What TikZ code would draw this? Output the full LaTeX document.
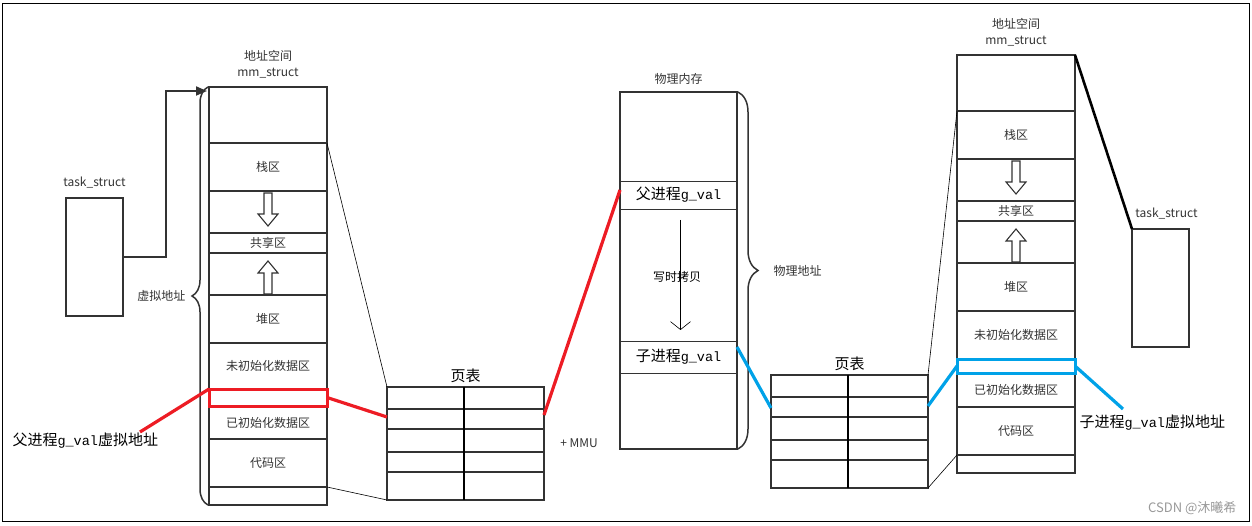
\documentclass[tikz,border=0pt]{standalone}
\usepackage{fontspec}
\setmainfont{Noto Sans CJK SC}
\newfontfamily\monofont{Liberation Mono}
\usetikzlibrary{positioning, arrows.meta, decorations.pathreplacing}

\definecolor{linec}{HTML}{333333}
\definecolor{redline}{HTML}{ED1C24}
\definecolor{blueline}{HTML}{00A2E8}

\newcommand{\labfont}{\fontsize{12pt}{16pt}\selectfont}
\newcommand{\bigfont}{\fontsize{15pt}{18pt}\selectfont}
\newcommand{\gval}{{\monofont\fontsize{13.5pt}{16pt}\selectfont g\_val}}

\begin{document}
\begin{tikzpicture}[
        x=1pt, y=-1pt,
        every node/.style={font=\labfont, text=linec},
        seg/.style={draw=linec, line width=1.8pt, minimum width=118pt, inner sep=0pt, outer sep=0pt},
        cell/.style={draw=linec, line width=0.8pt, minimum width=117pt, inner sep=0pt, outer sep=0pt},
        ptab/.style={draw=linec, line width=1.8pt, minimum width=157pt, minimum height=113pt, inner sep=0pt, outer sep=0pt},
        tbox/.style={draw=linec, line width=1.8pt, minimum width=57pt, minimum height=118pt, inner sep=0pt, outer sep=0pt},
        guide/.style={draw=black, line width=0.6pt},
        redl/.style={draw=redline, line width=3.2pt},
        bluel/.style={draw=blueline, line width=3.2pt},
        hollowdown/.pic={
            \draw[draw=linec, line width=1.1pt, fill=white]
                (-4,0) -- (-4,21) -- (-10,21) -- (0,33) -- (10,21) -- (4,21) -- (4,0) -- cycle;
        }
    ]

    \useasboundingbox (0,0) rectangle (1252,526);
    \draw[black, line width=1pt] (2,4) rectangle (1249,521);

    % parent address space
    \foreach \nm/\yc/\hgt/\txt in {ltop/115/56/{}, lstack/167/48/栈区, ldown/212/42/{},
            lshare/243/20/共享区, lup/274/42/{}, lheap/319/48/堆区, lbss/366/46/未初始化数据区,
            ldata/422.5/33/已初始化数据区, lcode/463/48/代码区, lbot/496/18/{}} {
        \node[seg, minimum height=\hgt pt] (\nm) at (268,\yc) {\txt};
    }
    \node[seg, draw=redline, line width=3pt, minimum height=17pt] (lgval) at (268,397.5) {};
    \pic at ([yshift=-2pt]ldown.north) {hollowdown};
    \pic[rotate=180] at ([yshift=1pt]lup.south) {hollowdown};
    \node[above=5pt of ltop, align=center] (lmmlabel) {地址空间\\mm\_struct};

    \node[tbox] (ltask) at (94.5,257) {};
    \node[above=6pt of ltask] (ltasklabel) {task\_struct};
    \draw[draw=linec, line width=1.8pt, -{Triangle[length=11pt, width=9pt]}]
        (ltask.east) -- ++(43,0) |- ([xshift=-2pt, yshift=-4pt]ltop.north west);

    \draw[linec, line width=1.5pt, decorate, decoration={brace, amplitude=16pt}]
        ([xshift=-1pt]lbot.south west) -- ([xshift=-1pt]ltop.north west);
    \node[anchor=east] (lvirt) at (189,296) {虚拟地址};

    \node[anchor=west, font=\bigfont, text=black] (llabel) at (9,441) {父进程\gval 虚拟地址};
    \coordinate (llink) at (140,432);
    \draw[redl] (llink) -- (lgval.north west);

    % parent page table
    \node[ptab] (lpt) at (465.5,443.5) {};
    \foreach \dy in {22,42,65,85} {
        \draw[linec, line width=1.8pt] ([yshift=-\dy pt]lpt.north west) -- ([yshift=-\dy pt]lpt.north east);
    }
    \draw[black, line width=2.8pt] ([xshift=77pt]lpt.north west) -- ([xshift=77pt]lpt.south west);
    \node[above=1pt of lpt, font=\bigfont, text=black] (lptlabel) {页表};

    \draw[guide] (lstack.north east) -- (lpt.north west);
    \draw[guide] (lbot.north east) -- (lpt.south west);
    \draw[redl] (lgval.east) -- ([yshift=-30pt]lpt.north west);

    \node (mmu) at (579,443) {+ MMU};

    % physical memory
    \node[seg, minimum width=117pt, minimum height=357pt] (phys) at (678.5,270.5) {};
    \node[cell, minimum height=28pt, font=\bigfont, text=black] (pparent) at (678.5,195) {父进程\gval};
    \node[cell, minimum height=32pt, font=\bigfont, text=black] (pchild) at (678.5,357) {子进程\gval};
    \node[above=4pt of phys] (physlabel) {物理内存};
    \draw[black, line width=0.6pt, -{Straight Barb[length=8pt, width=20pt]}]
        ([xshift=2pt, yshift=-11pt]pparent.south) -- ([xshift=2pt, yshift=11pt]pchild.north);
    \node[text=black] (cow) at (677,277) {写时拷贝};
    \draw[linec, line width=1.5pt, decorate, decoration={brace, amplitude=20pt}]
        ([xshift=1pt]phys.north east) -- ([xshift=1pt]phys.south east);
    \node[anchor=west] (physaddr) at (770,271) {物理地址};
    \draw[redl] ([yshift=-28pt]lpt.north east) -- ([yshift=-9pt]pparent.north west);

    % child page table
    \node[ptab] (rpt) at (849.5,431.5) {};
    \foreach \dy in {22,42,65,85} {
        \draw[linec, line width=1.8pt] ([yshift=-\dy pt]rpt.north west) -- ([yshift=-\dy pt]rpt.north east);
    }
    \draw[black, line width=2.8pt] ([xshift=77pt]rpt.north west) -- ([xshift=77pt]rpt.south west);
    \node[above=1pt of rpt, font=\bigfont, text=black] (rptlabel) {页表};
    \draw[bluel] ([yshift=-6pt]pchild.north east) -- ([yshift=-33pt]rpt.north west);

    % child address space
    \foreach \nm/\yc/\hgt/\txt in {rtop/83/56/{}, rstack/135/48/栈区, rdown/180/42/{},
            rshare/211/20/共享区, rup/242/42/{}, rheap/287/48/堆区, rbss/335/48/未初始化数据区,
            rdata/390/34/已初始化数据区, rcode/431/48/代码区, rbot/464/18/{}} {
        \node[seg, minimum height=\hgt pt] (\nm) at (1016,\yc) {\txt};
    }
    \node[seg, draw=blueline, line width=3pt, minimum height=14pt] (rgval) at (1016,366) {};
    \pic at ([yshift=-2pt]rdown.north) {hollowdown};
    \pic[rotate=180] at ([yshift=1pt]rup.south) {hollowdown};
    \node[above=5pt of rtop, align=center] (rmmlabel) {地址空间\\mm\_struct};

    \draw[guide] (rpt.north east) -- (rstack.north west);
    \draw[guide] (rpt.south east) -- (rbot.north west);
    \draw[bluel] ([yshift=-31pt]rpt.north east) -- (rgval.west);

    \node[tbox] (rtask) at (1160.5,288) {};
    \node[above=6pt of rtask, xshift=6pt] (rtasklabel) {task\_struct};
    \draw[black, line width=2.6pt] (rtop.north east) -- (rtask.north west);

    \node[anchor=west, font=\bigfont, text=black] (rlabel) at (1076,423) {子进程\gval 虚拟地址};
    \coordinate (rlink) at (1123,409);
    \draw[bluel] (rgval.east) -- (rlink);

    \node[anchor=south east, text=black!40, font=\fontsize{13pt}{15pt}\selectfont] (mark) at (1240,518) {CSDN @沐曦希};
\end{tikzpicture}
\end{document}
